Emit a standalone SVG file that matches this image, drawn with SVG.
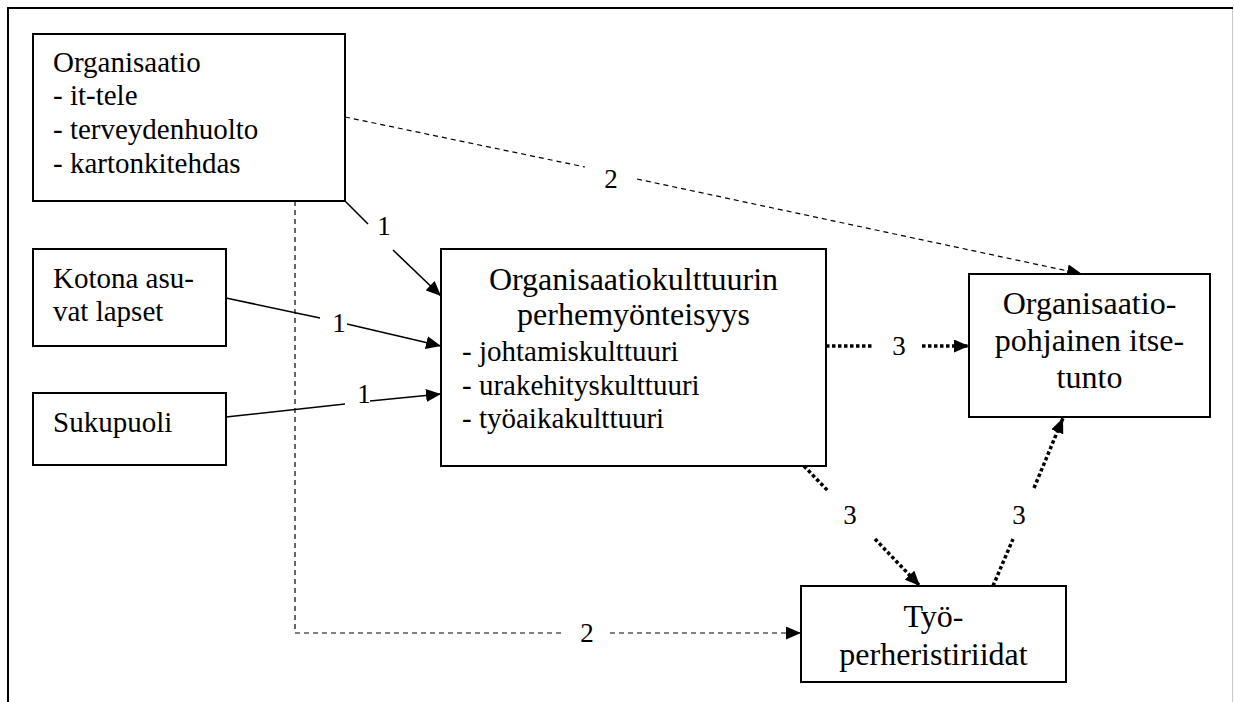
<svg xmlns="http://www.w3.org/2000/svg" width="1234" height="702" viewBox="0 0 1234 702">
<style>
  .box { fill: #fff; stroke: #000; stroke-width: 2; }
  text { font-family: Liberation Serif, Times New Roman, Times, Tinos, Noto Serif, DejaVu Serif, Nimbus Roman, FreeSerif, serif; fill: #000; }
  .s29 { font-size: 29px; }
  .s32 { font-size: 32px; }
  .lbl { font-size: 27px; text-anchor: middle; }
  .solid { fill: none; stroke: #000; stroke-width: 1.6; }
  .dash { fill: none; stroke: #000; stroke-width: 1.2; stroke-dasharray: 5 4; }
  .dot { fill: none; stroke: #000; stroke-width: 3.5; stroke-dasharray: 3.5 2.5; }
</style>
<defs>
  <marker id="arr" markerUnits="userSpaceOnUse" markerWidth="15" markerHeight="13" refX="15" refY="6.5" orient="auto">
    <path d="M0,0 L15,6.5 L0,13 z" fill="#000"/>
  </marker>
</defs>
<rect width="1234" height="702" fill="#fff"/>
<g id="frame">
  <line x1="8" y1="8" x2="1233" y2="8" stroke="#000" stroke-width="2"/>
  <line x1="8" y1="7" x2="8" y2="702" stroke="#000" stroke-width="2"/>
  <line x1="1232.5" y1="9" x2="1232.5" y2="702" stroke="#c8c8c8" stroke-width="1"/>
</g>
<g id="connectors">
  <line class="solid" x1="345" y1="201" x2="368" y2="224"/>
  <line class="solid" x1="393" y1="250" x2="441" y2="296" marker-end="url(#arr)"/>
  <text class="lbl" x="384" y="235">1</text>
  <line class="solid" x1="226" y1="298" x2="320" y2="318"/>
  <line class="solid" x1="347" y1="324" x2="441" y2="346" marker-end="url(#arr)"/>
  <text class="lbl" x="339" y="332">1</text>
  <line class="solid" x1="226" y1="417" x2="345" y2="404"/>
  <line class="solid" x1="370" y1="401" x2="441" y2="394" marker-end="url(#arr)"/>
  <text class="lbl" x="364" y="403">1</text>
  <line class="dash" x1="345" y1="117" x2="585" y2="167"/>
  <line class="dash" x1="637" y1="179" x2="1082" y2="274" marker-end="url(#arr)"/>
  <text class="lbl" x="611" y="188">2</text>
  <path class="dash" d="M295,201 L295,633 L562,633"/>
  <line class="dash" x1="610" y1="633" x2="801" y2="633" marker-end="url(#arr)"/>
  <text class="lbl" x="587" y="642">2</text>
  <line class="dot" x1="826" y1="346" x2="873" y2="346"/>
  <line class="dot" x1="922" y1="346" x2="969" y2="346" marker-end="url(#arr)"/>
  <text class="lbl" x="899" y="355">3</text>
  <line class="dot" x1="804" y1="466" x2="829" y2="492"/>
  <line class="dot" x1="875" y1="539" x2="920" y2="586" marker-end="url(#arr)"/>
  <text class="lbl" x="850" y="524">3</text>
  <line class="dot" x1="993" y1="586" x2="1013" y2="539"/>
  <line class="dot" x1="1034" y1="488" x2="1063" y2="418" marker-end="url(#arr)"/>
  <text class="lbl" x="1019" y="524">3</text>
</g>
<g id="node-organisaatio">
  <rect class="box" x="33" y="34" width="312" height="167"/>
  <text class="s29" x="53" y="72">Organisaatio</text>
  <text class="s29" x="53" y="105">- it-tele</text>
  <text class="s29" x="53" y="139">- terveydenhuolto</text>
  <text class="s29" x="53" y="173">- kartonkitehdas</text>
</g>
<g id="node-kotona">
  <rect class="box" x="33" y="249" width="193" height="97"/>
  <text class="s29" x="53" y="288">Kotona asu-</text>
  <text class="s29" x="53" y="321">vat lapset</text>
</g>
<g id="node-sukupuoli">
  <rect class="box" x="33" y="393" width="193" height="72"/>
  <text class="s29" x="53" y="432">Sukupuoli</text>
</g>
<g id="node-perhemyonteisyys">
  <rect class="box" x="441" y="249" width="385" height="217"/>
  <text class="s32" x="633.5" y="290" text-anchor="middle">Organisaatiokulttuurin</text>
  <text class="s32" x="633.5" y="325" text-anchor="middle">perhemyönteisyys</text>
  <text class="s29" x="462" y="361">- johtamiskulttuuri</text>
  <text class="s29" x="462" y="395">- urakehityskulttuuri</text>
  <text class="s29" x="462" y="428">- työaikakulttuuri</text>
</g>
<g id="node-itsetunto">
  <rect class="box" x="969" y="274" width="241" height="143"/>
  <text class="s32" x="1089.5" y="314" text-anchor="middle">Organisaatio-</text>
  <text class="s32" x="1089.5" y="351" text-anchor="middle">pohjainen itse-</text>
  <text class="s32" x="1089.5" y="388" text-anchor="middle">tunto</text>
</g>
<g id="node-ristiriidat">
  <rect class="box" x="801" y="586" width="265" height="96"/>
  <text class="s32" x="933.5" y="627" text-anchor="middle">Työ-</text>
  <text class="s32" x="933.5" y="665" text-anchor="middle">perheristiriidat</text>
</g>
</svg>
